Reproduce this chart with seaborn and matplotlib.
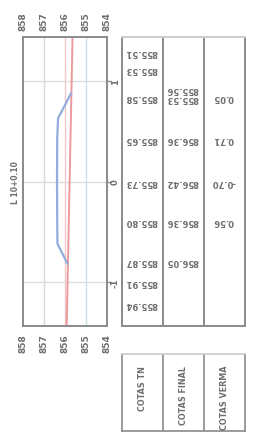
import matplotlib.pyplot as plt
import pandas as pd
import seaborn as sns

# cotas del perfil (eje horizontal = cota, eje vertical = estacion)
elev_ticks = [858, 857, 856, 855, 854]
station_ticks = [1, 0, -1]
station_labels = ["1", "0", "-1"]

# linea roja (rasante) y linea azul (terreno)
red_sta = [1.45, -1.45]
red_elev = [855.64, 855.92]
blue_sta = [0.88, 0.63, 0.43, 0.0, -0.39, -0.62, -0.82]
blue_elev = [855.71, 856.33, 856.37, 856.38, 856.37, 856.36, 855.88]

# cuadro de cotas
tn_sta = [1.30, 1.13, 0.85, 0.43, 0.0, -0.39, -0.79, -1.00, -1.22]
tn_txt = ["855.51", "855.53", "855.58", "855.65", "855.73", "855.80", "855.87", "855.91", "855.94"]
final_sta = [0.93, 0.84, 0.43, 0.0, -0.39, -0.79]
final_txt = ["855.56", "855.53", "856.36", "856.42", "856.36", "856.05"]
verma_sta = [0.85, 0.43, 0.0, -0.39]
verma_txt = ["0.05", "0.71", "-0.70", "0.56"]
headers = ["COTAS TN", "COTAS FINAL", "COTAS VERMA"]
section_label = "L 10+0.10"

GRAY = "#8a8a8a"
TXT = "#6e6e6e"


def main():
    sns.set_theme(style="white")
    plt.rcParams["font.family"] = ["DejaVu Sans"]

    fig = plt.figure(figsize=(2.55, 4.39), dpi=100)
    ax = fig.add_axes([0.0902, 0.2551, 0.3294, 0.6583])
    tab = fig.add_axes([0.4784, 0.2551, 0.4824, 0.6583], sharey=ax)
    head = fig.add_axes([0.4784, 0.0159, 0.4824, 0.1754])

    # grid
    grid_cols = {857: "#d8d8d8", 856: "#f0c8c8", 855: "#c8e4ea"}
    for e, c in grid_cols.items():
        ax.axvline(e, color=c, lw=1, zorder=0)
    for s in station_ticks:
        ax.axhline(s, color="#dddddd", lw=1, zorder=0)

    red = pd.DataFrame({"cota": red_elev, "est": red_sta})
    blue = pd.DataFrame({"cota": blue_elev, "est": blue_sta})
    sns.lineplot(data=red, x="cota", y="est", sort=False, estimator=None,
                 color="#ec9a9a", lw=1.4, ax=ax)
    sns.lineplot(data=blue, x="cota", y="est", sort=False, estimator=None,
                 color="#93aede", lw=1.6, ax=ax)

    ax.set_xlim(858, 854)
    ax.set_ylim(-1.44, 1.44)
    ax.set_xlabel("")
    ax.set_ylabel("")
    ax.set_xticks(elev_ticks)
    ax.set_xticklabels([str(e) for e in elev_ticks], rotation=90, fontsize=6.5,
                       color=TXT, fontweight="bold")
    ax.tick_params(axis="x", top=True, labeltop=True, bottom=True, labelbottom=True,
                   length=0, pad=5)
    ax.set_yticks([])
    for sp in ax.spines.values():
        sp.set_color(GRAY)
        sp.set_linewidth(1.4)

    # estaciones a la derecha del perfil
    for s, lab in zip(station_ticks, station_labels):
        ax.annotate(lab, xy=(1.0, s), xycoords=("axes fraction", "data"),
                    xytext=(6, 0), textcoords="offset points", rotation=90,
                    ha="center", va="center", fontsize=6, color=TXT, fontweight="bold")
        ax.plot([1.0, 1.05], [s, s], transform=ax.get_yaxis_transform(),
                color=GRAY, lw=1, clip_on=False)

    fig.text(0.06, 0.585, section_label, rotation=90, ha="center", va="center",
             fontsize=5.5, color=TXT, fontweight="bold")

    # cuadro de valores
    tab.set_xlim(0, 3)
    tab.set_xticks([])
    tab.tick_params(left=False, labelleft=False)
    for sp in tab.spines.values():
        sp.set_color(GRAY)
        sp.set_linewidth(1.4)
    tab.spines["top"].set_color("#cccccc")
    for xc in [1, 2]:
        tab.axvline(xc, color=GRAY, lw=1.4)
    for col, (sta, txt) in enumerate([(tn_sta, tn_txt), (final_sta, final_txt),
                                      (verma_sta, verma_txt)]):
        for s, t in zip(sta, txt):
            tab.text(col + 0.47, s, t, rotation=180, ha="center", va="center",
                     fontsize=6, color=TXT, fontweight="bold")

    # encabezado
    head.set_xlim(0, 3)
    head.set_ylim(0, 1)
    head.set_xticks([])
    head.set_yticks([])
    for sp in head.spines.values():
        sp.set_color(GRAY)
        sp.set_linewidth(1.2)
    head.spines["top"].set_color("#cccccc")
    for xc in [1, 2]:
        head.axvline(xc, color=GRAY, lw=1.2)
    for col, h in enumerate(headers):
        head.text(col + 0.5, 0.86, h, rotation=90, ha="center", va="top",
                  fontsize=5.8, color=TXT, fontweight="bold")

    fig.savefig("out.png", dpi=100)


if __name__ == "__main__":
    main()
